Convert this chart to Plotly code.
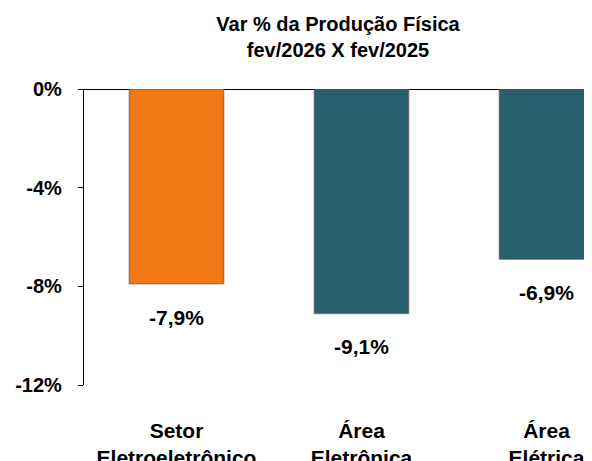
import plotly.graph_objects as go

categories = ["Setor<br>Eletroeletrônico", "Área<br>Eletrônica", "Área<br>Elétrica"]
values = [-7.9, -9.1, -6.9]
value_labels = ["-7,9%", "-9,1%", "-6,9%"]
bar_colors = ["#F07815", "#2A5F6D", "#2A5F6D"]
y_ticks = [0, -4, -8, -12]
y_tick_labels = ["0%", "-4%", "-8%", "-12%"]

FONT = "Liberation Sans, Arial, sans-serif"

fig = go.Figure()
fig.add_trace(go.Bar(
    x=list(range(len(categories))),
    y=values,
    marker=dict(color=bar_colors, line=dict(color="rgba(70,70,70,0.5)", width=1.5)),
    width=0.51,
    hoverinfo="skip",
))

for i, (v, t) in enumerate(zip(values, value_labels)):
    fig.add_annotation(x=i, y=v, text="<b>%s</b>" % t, showarrow=False,
                       yanchor="top", yshift=-20,
                       font=dict(family=FONT, size=21, color="black"))

# page has an 8px body margin, so the figure is 8px smaller than the window
fig.update_layout(
    width=584, height=453,
    margin=dict(l=76, r=0, t=81, b=76, autoexpand=False),
    paper_bgcolor="white", plot_bgcolor="white",
    showlegend=False,
    title=dict(text="<b>Var % da Produção Física<br>fev/2026 X fev/2025</b>",
               x=(0.5 * (84 + 592) - 8) / 584, xref="container", xanchor="center",
               y=0.95, yref="container", yanchor="top",
               font=dict(family=FONT, size=20, color="black")),
    font=dict(family=FONT, color="black"),
)
fig.update_xaxes(
    range=[-0.5, 2.246],
    tickvals=list(range(len(categories))),
    ticktext=["<b>%s</b>" % c for c in categories],
    tickfont=dict(family=FONT, size=21, color="black"),
    showgrid=False, zeroline=False, showline=False, ticks="",
    ticklabelstandoff=31, automargin=False,
)
fig.update_yaxes(
    range=[-12, 0],
    tickvals=y_ticks,
    ticktext=["<b>%s</b>" % t for t in y_tick_labels],
    tickfont=dict(family=FONT, size=20, color="black"),
    showgrid=False, zeroline=True, zerolinecolor="black", zerolinewidth=1.2,
    showline=True, linecolor="black", linewidth=1.2,
    ticks="outside", ticklen=5, tickcolor="black", tickwidth=1.2,
    ticklabelstandoff=12, automargin=False,
)

fig.write_html("out.html")
